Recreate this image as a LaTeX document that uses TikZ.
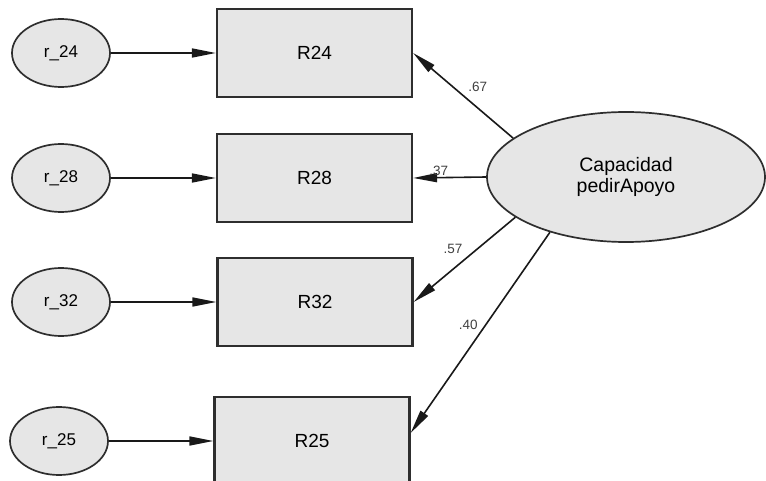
\documentclass[tikz,border=0pt]{standalone}
\usepackage{fontspec}
\setmainfont{Liberation Sans}
\usetikzlibrary{arrows.meta,shapes.geometric}
\definecolor{boxgray}{HTML}{E6E6E6}
\definecolor{edgegray}{HTML}{2E2E2E}

\begin{document}
\begin{tikzpicture}[x=1pt,y=-1pt,>={Triangle[length=24pt,width=9pt]},
	resid/.style={ellipse,draw=edgegray,fill=boxgray,line width=1.7pt,minimum width=98pt,minimum height=68pt,inner sep=0pt,font=\fontsize{17}{19}\selectfont},
	item/.style={rectangle,draw=edgegray,fill=boxgray,line width=2.3pt,minimum width=195pt,minimum height=88pt,font=\fontsize{19}{21}\selectfont},
	factor/.style={ellipse,draw=edgegray,fill=boxgray,line width=1.7pt,minimum width=278pt,minimum height=130pt,inner sep=0pt,align=center,font=\fontsize{19.5}{20.5}\selectfont},
	load/.style={->,line width=1.6pt,draw=black!90},
	coef/.style={font=\fontsize{13.5}{15}\selectfont,text=black!75}]
	\useasboundingbox (0,0) rectangle (766,481);
	% residuals
	\node[resid] (r24) at (61,53) {r\_24};
	\node[resid] (r28) at (61,178) {r\_28};
	\node[resid] (r32) at (61,302) {r\_32};
	\node[resid] (r25) at (59,441) {r\_25};
	% observed items
	\node[item] (R24) at (314.5,53) {R24};
	\node[item] (R28) at (314.5,178) {R28};
	\node[item] (R32) at (315,302) {R32};
	\node[item] (R25) at (312,441) {R25};
	% latent factor
	\node[factor] (cap) at (626,177) {Capacidad\\pedirApoyo};
	% error paths
	\draw[load] (r24) -- (R24);
	\draw[load] (r28) -- (R28);
	\draw[load] (r32) -- (R32);
	\draw[load] (r25) -- (R25);
	% loadings
	\draw[load] (cap.161) -- (R24.east) node[coef,pos=0.6,right=11pt] {.67};
	\draw[load] (cap.west) -- (R28.east) node[coef,pos=0.65,above,inner sep=1pt] {.37};
	\draw[load] (cap.200) -- (R32.east) node[coef,pos=0.48,above left] {.57};
	\draw[load] (cap.216) -- ([yshift=8pt]R25.east) node[coef,pos=0.46,left=4pt] {.40};
\end{tikzpicture}
\end{document}
